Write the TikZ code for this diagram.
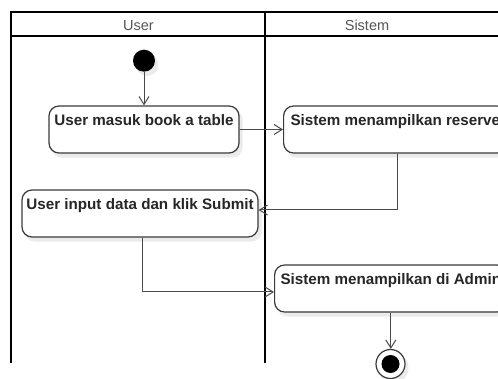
\documentclass[tikz,border=0pt]{standalone}
\usepackage{fontspec}
\setmainfont{Liberation Sans}
\usetikzlibrary{arrows.meta}
\definecolor{lanetext}{HTML}{555555}
\definecolor{boxline}{HTML}{3A3A3A}
\definecolor{flowline}{HTML}{4A4A4A}
\definecolor{shade}{HTML}{EBEBEB}

\begin{document}
\begin{tikzpicture}[x=1pt,y=-1pt,
  lane/.style={line width=2pt,black},
  lanehead/.style={text=lanetext,font=\fontsize{14.5}{17}\selectfont,anchor=base,inner sep=0pt},
  shadowed/.style={preaction={fill=shade,draw=shade,transform canvas={xshift=3pt,yshift=-4pt}}},
  activity/.style={draw=boxline,line width=1.2pt,rounded corners=10pt,fill=white,shadowed,
     font=\fontsize{15.2}{18}\selectfont\bfseries,text=black!85,
     inner ysep=0pt,text height=20pt,text depth=27pt,minimum height=47pt},
  flow/.style={draw=flowline,line width=1pt,-{Straight Barb[length=8pt,width=10pt]}},
  ]
\useasboundingbox (0,0) rectangle (498,379);
\clip (0,0) rectangle (498,379);

% swimlanes
\draw[lane] (11,363) -- (11,12) -- (502,12);
\draw[lane] (11,36) -- (502,36);
\draw[lane] (265,12) -- (265,363);
\node[lanehead] (hUser) at (138.5,31) {User};
\node[lanehead] (hSistem) at (367,31) {Sistem};

% initial and final states
\node[circle,fill=black,minimum size=22pt,inner sep=0pt,shadowed] (start) at (144,60.7) {};
\node[circle,draw=boxline,line width=1.2pt,fill=white,minimum size=29pt,inner sep=0pt,shadowed] (end) at (390.5,364) {};
\node[circle,fill=black,minimum size=18pt,inner sep=0pt] (endDot) at (end.center) {};

% activities
\node[activity,minimum width=190pt] (b1) at (144,129.5) {User masuk book a table};
\node[activity,anchor=west,inner xsep=7pt] (b2) at (283,129.5) {Sistem menampilkan reserve};
\node[activity,minimum width=236pt,inner xsep=4pt] (b3) at (140,213.5) {User input data dan klik Submit};
\node[activity,anchor=west,inner xsep=6pt] (b4) at (274,288.5) {Sistem menampilkan di Admin};

% control flow
\draw[flow] (start) -- (b1);
\draw[flow] (b1) -- (b2);
\draw[flow] ([xshift=2.5pt]b2.south) |- ([yshift=3.5pt]b3.east);
\draw[flow] ([xshift=2pt]b3.south) |- ([yshift=-3.5pt]b4.west);
\draw[flow] (b4.south) -- (b4.south |- end.north);
\end{tikzpicture}
\end{document}
